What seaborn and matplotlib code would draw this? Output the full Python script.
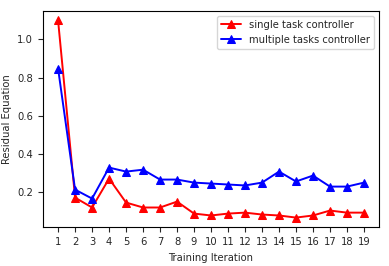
import pandas as pd
import matplotlib
matplotlib.use("Agg")
import matplotlib.pyplot as plt
import seaborn as sns

iterations = list(range(1, 20))
single_task = [1.10, 0.168, 0.116, 0.268, 0.142, 0.116, 0.116, 0.147, 0.084, 0.074,
               0.084, 0.089, 0.079, 0.074, 0.063, 0.074, 0.100, 0.089, 0.089]
multiple_tasks = [0.847, 0.210, 0.163, 0.326, 0.305, 0.315, 0.263, 0.263, 0.247, 0.242,
                  0.237, 0.232, 0.247, 0.305, 0.253, 0.284, 0.226, 0.226, 0.247]

df = pd.DataFrame({
    "Training Iteration": iterations * 2,
    "Residual Equation": single_task + multiple_tasks,
    "controller": ["single task controller"] * 19 + ["multiple tasks controller"] * 19,
})

sns.set_style("ticks")
plt.rcParams["font.family"] = ["DejaVu Sans"]
plt.rcParams["axes.edgecolor"] = "black"

fig, ax = plt.subplots(figsize=(3.89, 2.66), dpi=100)

sns.lineplot(
    data=df,
    x="Training Iteration",
    y="Residual Equation",
    hue="controller",
    palette={"single task controller": "red", "multiple tasks controller": "blue"},
    marker="^",
    markersize=5.5,
    markeredgecolor=None,
    linewidth=1.4,
    ax=ax,
)

ax.set_xticks(iterations)
ax.tick_params(labelsize=7.2)
ax.set_xlabel("Training Iteration", fontsize=7.2)
ax.set_ylabel("Residual Equation", fontsize=7.2)
ax.legend(title=None, fontsize=7.2, loc="upper right")

plt.subplots_adjust(left=0.11, right=0.975, top=0.96, bottom=0.145)
plt.savefig("out.png", dpi=100)
